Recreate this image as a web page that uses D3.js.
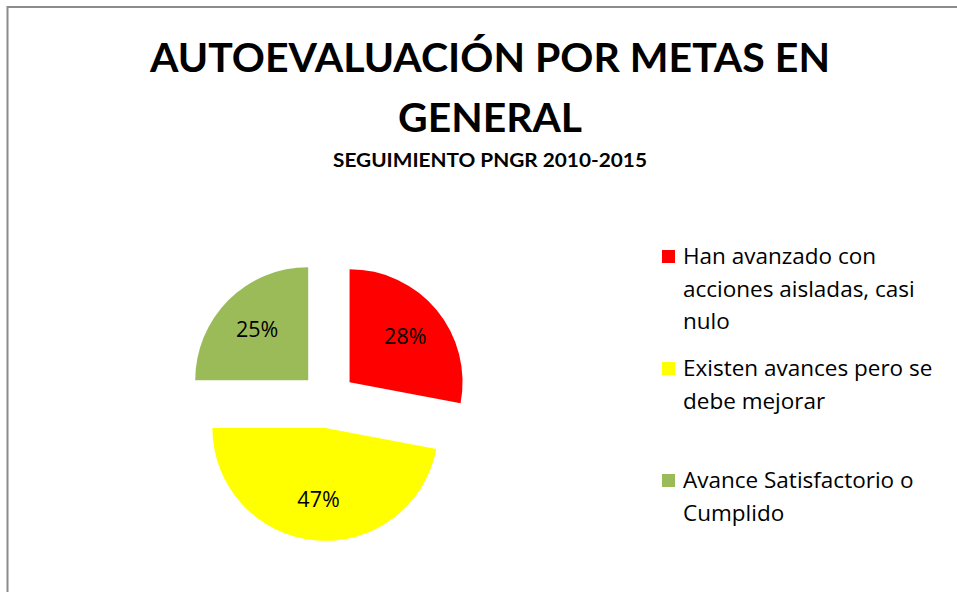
<!DOCTYPE html>
<html>
<head>
<meta charset="utf-8">
<script src="https://cdn.jsdelivr.net/npm/d3@7"></script>
<style>
  html, body { margin: 0; padding: 0; background: #fff; }
  svg { display: block; font-family: Lato, "Open Sans", sans-serif; }
</style>
</head>
<body>
<div class="chart"></div>
<script>
// chart data
const categories = [
    "Han avanzado con acciones aisladas, casi nulo",
    "Existen avances pero se debe mejorar",
    "Avance Satisfactorio o Cumplido"
];
const values = [0.28, 0.47, 0.25];
const titleLines = ["AUTOEVALUACIÓN POR METAS EN", "GENERAL"];
const subtitle = "SEGUIMIENTO PNGR 2010-2015";

const colors = ["#ff0000", "#ffff00", "#9bbb59"];

let width = 957, height = 592;

const svg = d3.select(".chart")
    .append("svg")
        .attr("width", width)
        .attr("height", height);

// chart area frame (only top and left edges are visible in the crop)
svg.append("path")
    .attr("d", "M7.5," + height + "V7H" + width)
    .attr("fill", "none")
    .attr("stroke", "#8c8c8c")
    .attr("stroke-width", 2);

// titles
const title = svg.append("g")
    .attr("font-weight", "bold")
    .attr("text-anchor", "middle");

title.selectAll("text.t")
    .data(titleLines)
    .enter()
    .append("text")
        .attr("class", "t")
        .attr("x", 490)
        .attr("y", (d, i) => 72 + i * 60)
        .attr("font-size", 40)
        .attr("textLength", (d, i) => i === 0 ? 680 : 184)
        .attr("lengthAdjust", "spacingAndGlyphs")
        .text(d => d);

title.append("text")
    .attr("x", 490)
    .attr("y", 167)
    .attr("font-size", 18)
    .attr("textLength", 314)
    .attr("lengthAdjust", "spacingAndGlyphs")
    .text(subtitle);

// pie
const radius = 113, explode = 28;
const cx = 328, cy = 400;

const color = d3.scaleOrdinal()
    .domain(categories)
    .range(colors);

const pie = d3.pie()
    .sort(null)
    .value(d => d.value);

const arc = d3.arc()
    .innerRadius(0)
    .outerRadius(radius);

const labelArc = d3.arc()
    .innerRadius(radius * 0.64)
    .outerRadius(radius * 0.64);

const rows = categories.map((c, i) => ({name: c, value: values[i]}));
const arcs = pie(rows);

function offset(d) {
    const a = (d.startAngle + d.endAngle) / 2;
    return [Math.sin(a) * explode, -Math.cos(a) * explode];
}

const slices = svg.append("g")
    .attr("transform", "translate(" + cx + "," + cy + ")")
    .selectAll("g.slice")
    .data(arcs)
    .enter()
    .append("g")
        .attr("class", "slice")
        .attr("transform", d => "translate(" + offset(d) + ")");

slices.append("path")
    .attr("d", arc)
    .attr("fill", d => color(d.data.name));

slices.append("text")
    .attr("transform", d => "translate(" + labelArc.centroid(d) + ")")
    .attr("text-anchor", "middle")
    .attr("dy", "0.35em")
    .attr("font-family", "'Open Sans', sans-serif")
    .attr("font-size", 21.5)
    .attr("fill", "#000")
    .text(d => Math.round(d.data.value * 100) + "%");

// legend
const legend = svg.append("g")
    .attr("transform", "translate(662,264)");

const items = legend.selectAll("g.item")
    .data(categories)
    .enter()
    .append("g")
        .attr("class", "item")
        .attr("transform", (d, i) => "translate(0," + (i * 112) + ")");

items.append("rect")
    .attr("x", 0)
    .attr("y", -14)
    .attr("width", 13)
    .attr("height", 13)
    .attr("fill", d => color(d));

items.append("text")
    .attr("x", 21)
    .attr("y", 0)
    .attr("font-family", "'Open Sans', sans-serif")
    .attr("font-size", 22.5)
    .attr("fill", "#000")
    .each(function (d) {
        // wrap words into lines that fit the legend column
        const t = d3.select(this);
        const words = d.split(" ");
        let line = [];
        let tspan = t.append("tspan").attr("x", 21).attr("dy", 0);
        words.forEach(w => {
            line.push(w);
            tspan.text(line.join(" "));
            if (tspan.node().getComputedTextLength() > 262 && line.length > 1) {
                line.pop();
                tspan.text(line.join(" "));
                line = [w];
                tspan = t.append("tspan").attr("x", 21).attr("dy", 32.5).text(w);
            }
        });
    });
</script>
</body>
</html>
